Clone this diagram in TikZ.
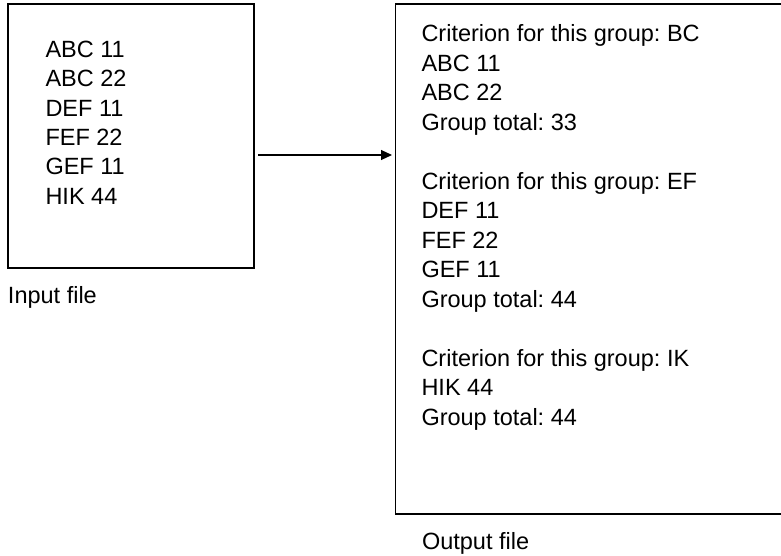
\documentclass[tikz,border=0pt]{standalone}
\usepackage{fontspec}
\setmainfont{Liberation Sans}
\usetikzlibrary{arrows.meta}
\frenchspacing
\begin{document}
\begin{tikzpicture}[x=1pt,y=-1pt,
  frame/.style={draw=black,line width=1.3pt,inner sep=0pt,outer sep=0pt,anchor=north west},
  txt/.style={anchor=base west,inner sep=0pt,outer sep=0pt,font=\fontsize{23.5}{29.5}\selectfont},
  flow/.style={-{Triangle[length=11pt,width=10pt]},line width=1.1pt,shorten <=4pt,shorten >=3.5pt}]
\useasboundingbox (0,0) rectangle (781,556);
\fill[white] (0,0) rectangle (781,556);

% input and output files
\node[frame,minimum width=246pt,minimum height=264pt] (inbox) at (8,4) {};
\node[frame,minimum width=387pt,minimum height=510pt] (outbox) at (395.5,4) {};

% records of the input file
\foreach \t [count=\i from 0] in {ABC 11,ABC 22,DEF 11,FEF 22,GEF 11,HIK 44}
  \node[txt] (in\i) at (45.5,{57.7+\i*29.3}) {\t};

% grouped records of the output file
\foreach \k/\t in {0/Criterion for this group: BC,1/ABC 11,2/ABC 22,3/Group total: 33,
    5/Criterion for this group: EF,6/DEF 11,7/FEF 22,8/GEF 11,9/Group total: 44,
    11/Criterion for this group: IK,12/HIK 44,13/Group total: 44}
  \node[txt] (out\k) at (421.5,{41.7+\k*29.5}) {\t};

% captions
\node[txt] (incap) at (8,303.3) {Input file};
\node[txt] (outcap) at (422,549.3) {Output file};

% processing step
\coordinate (row) at (0,155);
\draw[flow] (inbox.east |- row) -- (outbox.west |- row);
\end{tikzpicture}
\end{document}
